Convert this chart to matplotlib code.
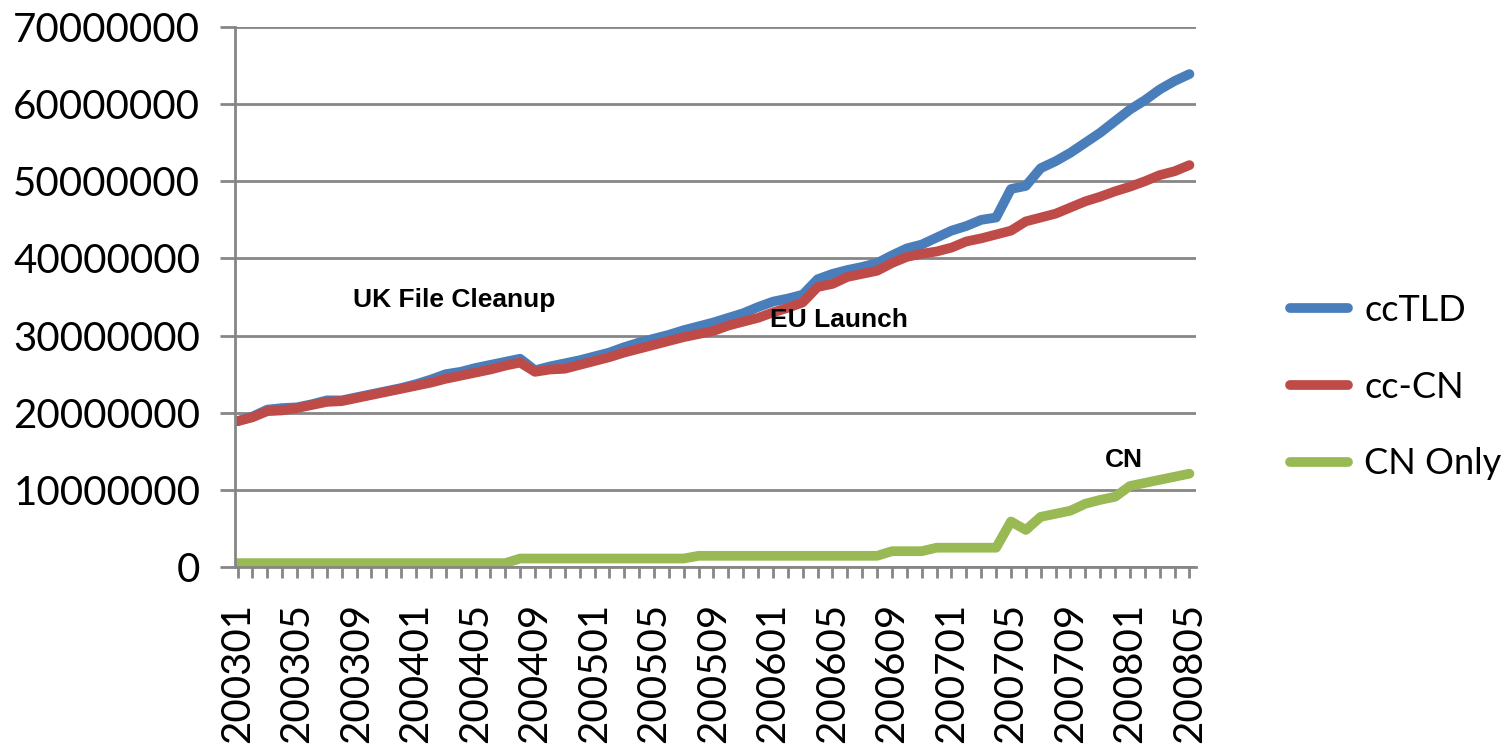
import matplotlib
matplotlib.use("Agg")
import matplotlib.pyplot as plt
from matplotlib.ticker import MultipleLocator, FixedLocator

# meses 200301 .. 200805
years = [2003, 2004, 2005, 2006, 2007, 2008]
months = [f"{y}{m:02d}" for y in years for m in range(1, 13)]
months = months[:months.index("200805") + 1]

# valores en millones
cctld = [18.9, 19.5, 20.4, 20.6, 20.7, 21.1, 21.6, 21.6, 22.0, 22.4,
         22.8, 23.2, 23.7, 24.3, 25.0, 25.3, 25.8, 26.2, 26.6, 27.0,
         25.5, 26.0, 26.4, 26.8, 27.3, 27.8, 28.5, 29.1, 29.6, 30.1,
         30.7, 31.2, 31.7, 32.3, 32.9, 33.7, 34.4, 34.8, 35.3, 37.3,
         38.0, 38.5, 38.9, 39.4, 40.4, 41.3, 41.8, 42.7, 43.6, 44.2,
         45.0, 45.3, 49.0, 49.4, 51.7, 52.6, 53.7, 55.0, 56.3, 57.8,
         59.3, 60.5, 61.9, 63.0, 63.9]
cc_cn = [18.9, 19.4, 20.2, 20.3, 20.6, 21.0, 21.4, 21.5, 21.9, 22.3,
         22.7, 23.1, 23.5, 23.9, 24.4, 24.8, 25.2, 25.6, 26.1, 26.5,
         25.3, 25.6, 25.7, 26.2, 26.7, 27.2, 27.8, 28.3, 28.8, 29.3,
         29.8, 30.2, 30.6, 31.3, 31.8, 32.3, 33.0, 33.6, 34.3, 36.3,
         36.7, 37.6, 38.0, 38.4, 39.4, 40.2, 40.6, 40.9, 41.4, 42.2,
         42.6, 43.1, 43.6, 44.8, 45.3, 45.8, 46.6, 47.4, 48.0, 48.7,
         49.3, 50.0, 50.8, 51.3, 52.1]
cn_only = [0.5, 0.5, 0.5, 0.5, 0.5, 0.5, 0.5, 0.5, 0.5, 0.5,
           0.5, 0.5, 0.5, 0.5, 0.5, 0.5, 0.5, 0.5, 0.5, 1.1,
           1.1, 1.1, 1.1, 1.1, 1.1, 1.1, 1.1, 1.1, 1.1, 1.1,
           1.1, 1.45, 1.45, 1.45, 1.45, 1.45, 1.45, 1.45, 1.45, 1.45,
           1.45, 1.45, 1.45, 1.45, 2.05, 2.05, 2.05, 2.5, 2.5, 2.5,
           2.5, 2.5, 5.9, 4.8, 6.5, 6.9, 7.3, 8.2, 8.7, 9.1,
           10.5, 10.9, 11.3, 11.7, 12.1]

series = [("ccTLD", cctld, "#4A7EBB"),
          ("cc-CN", cc_cn, "#BE4B48"),
          ("CN Only", cn_only, "#98B954")]

# anotaciones: texto, indice de mes, valor (millones)
notas = [("UK File Cleanup", 7.76, 33.7),
         ("EU Launch", 35.8, 31.1),
         ("CN", 58.3, 13.0)]

plt.rcParams['font.family'] = ['Lato', 'DejaVu Sans']
fig = plt.figure(figsize=(15.01, 7.44), dpi=100)
ax = fig.add_axes([235 / 1501, 1 - 567 / 744, 961 / 1501, 540 / 744])

x = list(range(len(months)))
for nombre, vals, color in series:
    ax.plot(x, [v * 1e6 for v in vals], color=color, lw=7, label=nombre,
            solid_capstyle='round', solid_joinstyle='round')

for texto, xi, yv in notas:
    ax.text(xi, yv * 1e6, texto, fontsize=19, fontweight='bold',
            family='Liberation Sans', ha='left', va='baseline')

gris = '#868686'
ax.set_xlim(-0.17, 64.44)
ax.set_ylim(0, 70000000)
ax.yaxis.set_major_locator(MultipleLocator(10000000))
ax.ticklabel_format(axis='y', style='plain', useOffset=False)
ax.grid(axis='y', color=gris, lw=2)
ax.set_axisbelow(True)

ax.xaxis.set_major_locator(FixedLocator(x[::4]))
ax.set_xticklabels(months[::4], rotation=90, va='top')
ax.xaxis.set_minor_locator(FixedLocator(x))

for s in ['top', 'right']:
    ax.spines[s].set_visible(False)
for s in ['left', 'bottom']:
    ax.spines[s].set_color(gris)
    ax.spines[s].set_linewidth(2)

ax.tick_params(axis='y', length=11, width=2, color=gris, labelsize=29, pad=14)
ax.tick_params(axis='x', which='both', length=8, width=2, color=gris,
               labelsize=29, pad=18)

fig.legend(loc='center left', bbox_to_anchor=(1290 / 1501, 1 - 387 / 744),
           frameon=False, fontsize=26, handlelength=1.6, handletextpad=0.45,
           labelspacing=1.21, borderpad=0, borderaxespad=0)

fig.savefig("out.png", dpi=100)
